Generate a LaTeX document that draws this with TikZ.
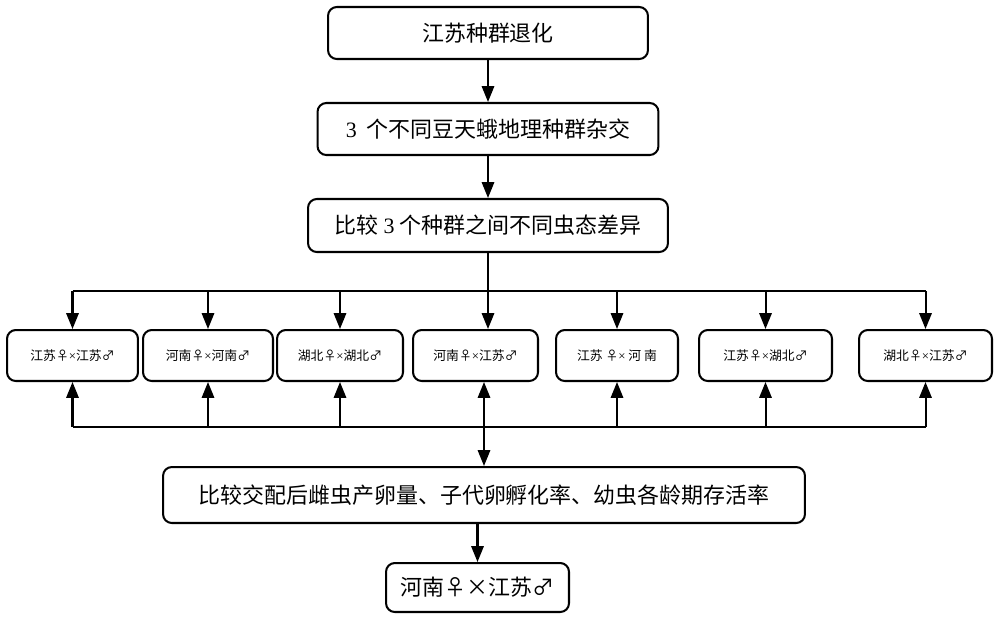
\documentclass[tikz,border=0pt]{standalone}
\usepackage{fontspec}
\setmainfont{Liberation Serif}
\newfontfamily\cjk{Noto Sans CJK SC}
\usetikzlibrary{arrows.meta, calc}
\tikzset{
  flowbox/.style={draw, line width=1.15pt, rounded corners=5pt, align=center, inner sep=0pt,
                  font=\cjk\fontsize{12.5}{15}\selectfont},
  crossbox/.style={flowbox, minimum height=1.02cm, font=\cjk\fontsize{7.3}{9}\selectfont},
  busline/.style={line width=1.15pt},
  flowarrow/.style={busline, -{Triangle[width=7pt, length=9pt]}},
}
\newcommand{\crs}{{\rmfamily ×}}

\begin{document}
\begin{tikzpicture}[x=0.02cm, y=-0.02cm]
    \useasboundingbox (0,0) rectangle (1000,619);

    % main chain
    \node[flowbox, minimum width=6.4cm, minimum height=1.04cm] (degrade) at (488,33) {江苏种群退化};
    \node[flowbox, minimum width=6.82cm, minimum height=1.04cm] (hybrid) at (488,129) {{\rmfamily 3}\ \ 个不同豆天蛾地理种群杂交};
    \node[flowbox, minimum width=7.2cm, minimum height=1.06cm] (stages) at (488,225.5) {比较 {\rmfamily 3} 个种群之间不同虫态差异};

    % crosses
    \node[crossbox, minimum width=2.62cm] (jsjs) at (72.5,355.5) {江苏♀\crs 江苏♂};
    \node[crossbox, minimum width=2.6cm]  (hnhn) at (208,355.5) {河南♀\crs 河南♂};
    \node[crossbox, minimum width=2.52cm] (hbhb) at (340,355.5) {湖北♀\crs 湖北♂};
    \node[crossbox, minimum width=2.5cm]  (hnjs) at (475.5,355.5) {河南♀\crs 江苏♂};
    \node[crossbox, minimum width=2.44cm] (jshn) at (617,355.5) {江苏 ♀\crs\ 河 南};
    \node[crossbox, minimum width=2.66cm] (jshb) at (765.5,355.5) {江苏♀\crs 湖北♂};
    \node[crossbox, minimum width=2.66cm] (hbjs) at (925.5,355.5) {湖北♀\crs 江苏♂};

    \node[flowbox, minimum width=12.84cm, minimum height=1.12cm] (compare) at (484,495) {比较交配后雌虫产卵量、子代卵孵化率、幼虫各龄期存活率};
    \node[flowbox, minimum width=3.66cm, minimum height=0.98cm] (best) at (477.5,587.5) {河南♀×江苏♂};

    % buses
    \coordinate (bustop) at (488,291);
    \coordinate (busbot) at (484,427);

    \draw[flowarrow] (degrade) -- (hybrid);
    \draw[flowarrow] (hybrid) -- (stages);
    \draw[busline] (stages.south) -- (bustop);
    \draw[busline] (jsjs.north |- bustop) -- (hbjs.north |- bustop);
    \draw[busline] (jsjs.south |- busbot) -- (hbjs.south |- busbot);
    \foreach \n in {jsjs, hnhn, hbhb, jshn, jshb, hbjs} {
      \draw[flowarrow] (\n.north |- bustop) -- (\n.north);
      \draw[flowarrow] (\n.south |- busbot) -- (\n.south);
    }
    \draw[flowarrow] (bustop) -- (bustop |- hnjs.north);
    \draw[flowarrow] (busbot) -- (busbot |- hnjs.south);
    \draw[flowarrow] (busbot) -- (busbot |- compare.north);
    \draw[flowarrow] (best.north |- compare.south) -- (best.north);
\end{tikzpicture}
\end{document}
